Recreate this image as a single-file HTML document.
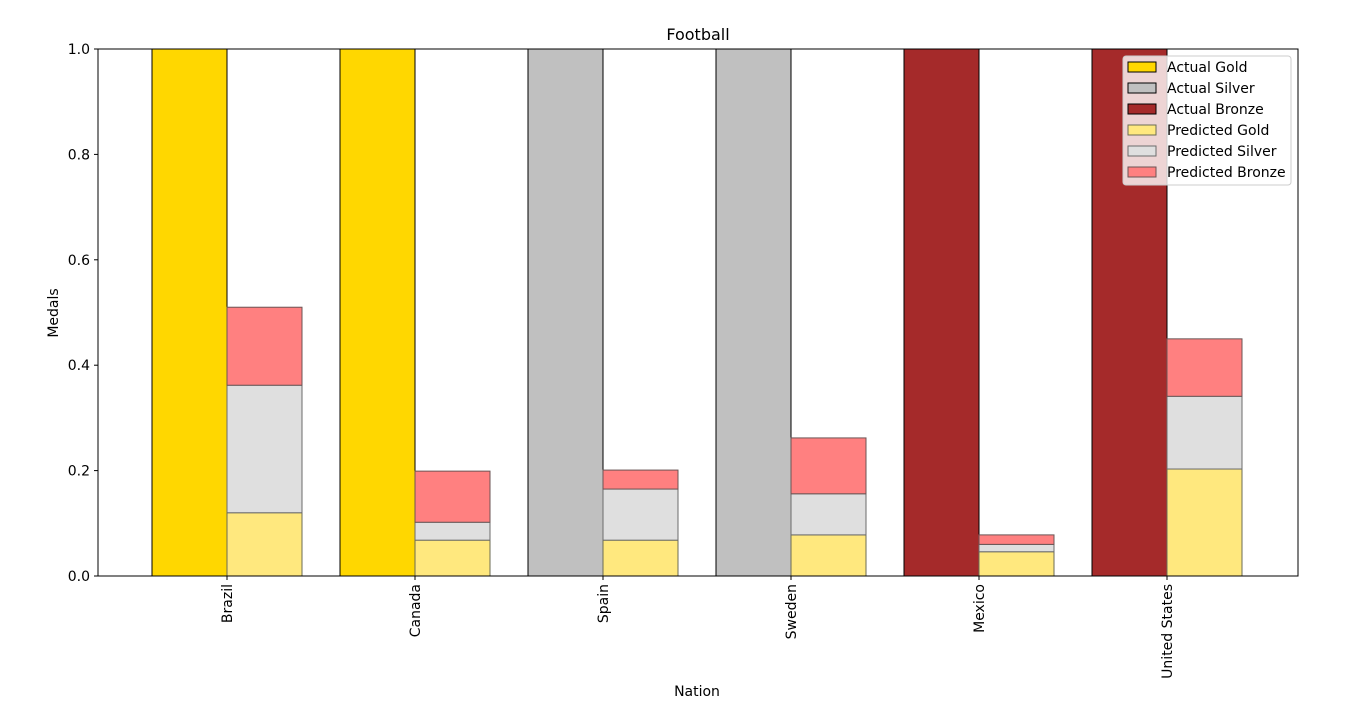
<!DOCTYPE html>
<html><head><meta charset="utf-8"><style>
body{margin:0;background:#fff;}
svg{display:block;font-family:"DejaVu Sans","Liberation Sans",sans-serif;}
</style></head><body>
<svg id="chart" width="1366" height="705">
<text x="698" y="40" font-size="16" text-anchor="middle">Football</text>
<g id="bars"></g>
<rect x="98" y="49" width="1200" height="527" fill="none" stroke="#000" stroke-width="1"/>
<g id="axes"></g>
<text x="697" y="696" font-size="14" text-anchor="middle">Nation</text>
<text transform="translate(58,313) rotate(-90)" font-size="14" text-anchor="middle">Medals</text>
<g id="legend"></g>
</svg>
<script>
const nations = ["Brazil","Canada","Spain","Sweden","Mexico","United States"];
const actualGold = [1,1,0,0,0,0];
const actualSilver = [0,0,1,1,0,0];
const actualBronze = [0,0,0,0,1,1];
const predGold = [0.12,0.068,0.068,0.078,0.046,0.203];
const predSilver = [0.242,0.034,0.097,0.078,0.014,0.138];
const predBronze = [0.148,0.097,0.036,0.106,0.018,0.109];
const yTicks = [0,0.2,0.4,0.6,0.8,1.0];

const NS="http://www.w3.org/2000/svg";
const x0=98,x1=1298,yT=49,yB=576;
const step=188, bw=75;
const xC=i=>227+step*i;
const yS=v=>yB-v*(yB-yT);
function mk(tag,attrs,parent){const e=document.createElementNS(NS,tag);for(const k in attrs)e.setAttribute(k,attrs[k]);parent.appendChild(e);return e;}
const bars=document.getElementById('bars');
const axes=document.getElementById('axes');
function bar(x,base,v,fill,stroke,name){
  if(v<=0)return;
  const r=mk('rect',{x:x,y:yS(base+v),width:bw,height:yS(base)-yS(base+v),fill:fill,stroke:stroke,'stroke-width':1},bars);
  
  
}
nations.forEach((n,i)=>{
  const c=xC(i);
  bar(c-bw,0,actualGold[i],'#ffd700','#000','actual-gold-bar');
  let b=actualGold[i];
  bar(c-bw,b,actualSilver[i],'#c0c0c0','#000','actual-silver-bar'); b+=actualSilver[i];
  bar(c-bw,b,actualBronze[i],'#a52a2a','#000','actual-bronze-bar');
  bar(c,0,predGold[i],'#ffe87e','#6b6b55','predicted-gold-bar');
  bar(c,predGold[i],predSilver[i],'#dfdfdf','#6b6b6b','predicted-silver-bar');
  bar(c,predGold[i]+predSilver[i],predBronze[i],'#ff8080','#6b5555','predicted-bronze-bar');
  mk('line',{x1:c,x2:c,y1:yB,y2:yB+4,stroke:'#000'},axes);
  const t=mk('text',{transform:`translate(${c+5},${yB+8}) rotate(-90)`,'font-size':14,'text-anchor':'end'},axes);
  t.textContent=n;
  
  
});
yTicks.forEach(v=>{
  const y=yS(v);
  mk('line',{x1:x0-4,x2:x0,y1:y,y2:y,stroke:'#000'},axes);
  const t=mk('text',{x:x0-8,y:y+5,'font-size':14,'text-anchor':'end'},axes);
  t.textContent=v.toFixed(1);
  
  
});
const lg=document.getElementById('legend');
mk('rect',{x:1123,y:56,width:168,height:129,rx:3,fill:'#fff','fill-opacity':0.8,stroke:'#ccc'},lg);
const labels=["Actual Gold","Actual Silver","Actual Bronze","Predicted Gold","Predicted Silver","Predicted Bronze"];
const fills=['#ffd700','#c0c0c0','#a52a2a','#ffe87e','#dfdfdf','#ff8080'];
const strokes=['#000','#000','#000','#6b6b55','#6b6b6b','#6b5555'];
labels.forEach((l,i)=>{
  const y=67+i*21;
  const p=mk('rect',{x:1128,y:y-5,width:28,height:10,fill:fills[i],stroke:strokes[i]},lg);
  
  
  const t=mk('text',{x:1167,y:y+5,'font-size':14},lg);
  t.textContent=l;
  
  
});
</script>
</body></html>
